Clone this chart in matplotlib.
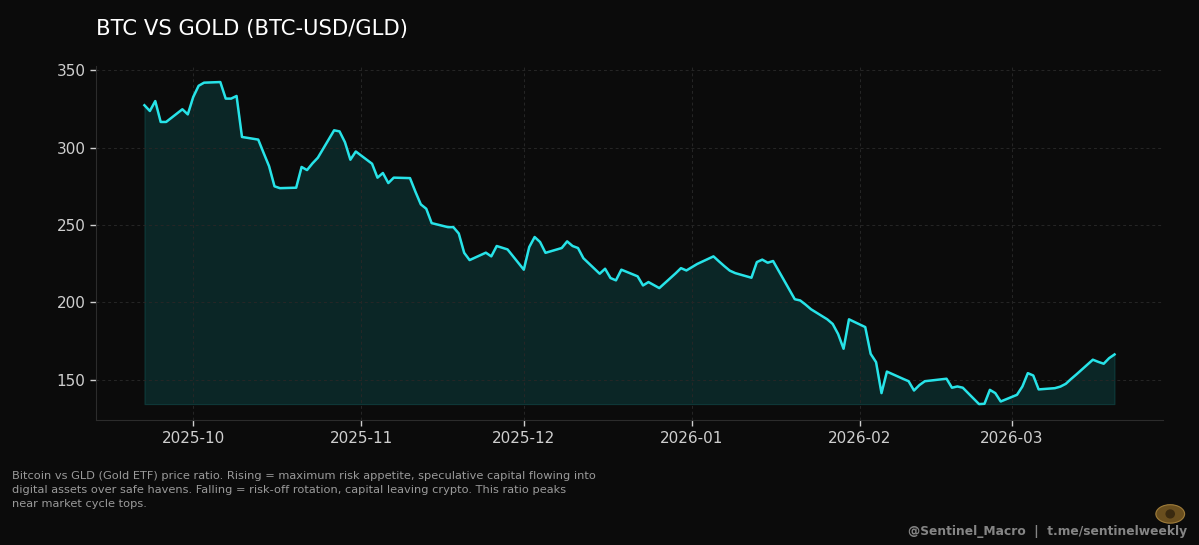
import pandas as pd
import matplotlib
matplotlib.use("Agg")
import matplotlib.pyplot as plt
import matplotlib.dates as mdates
from matplotlib.patches import Ellipse

# Trading days (US market holidays removed)
start_date = "2025-09-22"
end_date = "2026-03-20"
holidays = ["2025-11-27", "2025-12-25", "2026-01-01", "2026-01-19", "2026-02-16"]

# BTC-USD / GLD ratio
sep_vals = [327.4, 323.7, 330.1, 316.6, 316.6, 324.8, 321.5]
oct_vals = [332.7, 340.0, 342.0, 342.4, 331.7, 331.7, 333.4, 306.9, 305.2, 296.5,
            288.0, 275.0, 273.8, 274.1, 287.5, 285.5, 289.8, 293.5, 311.2, 310.5,
            303.5, 292.2, 297.5]
nov_vals = [289.6, 280.6, 283.6, 277.1, 280.6, 280.3, 271.5, 263.3, 260.5, 251.2,
            248.6, 248.6, 244.5, 232.0, 227.3, 232.1, 229.7, 236.4, 234.2]
dec_vals = [221.1, 235.7, 242.2, 239.0, 232.0, 235.1, 239.4, 236.4, 235.1, 228.5,
            218.5, 221.7, 215.7, 214.2, 221.1, 216.8, 210.9, 213.1, 209.2, 218.7,
            222.1, 220.6]
jan_vals = [224.8, 229.7, 226.5, 223.4, 220.5, 218.9, 215.9, 226.0, 227.6, 225.6,
            226.7, 202.0, 201.2, 198.5, 195.5, 189.0, 186.0, 179.5, 170.0, 189.0]
feb_vals = [184.0, 166.7, 161.3, 141.3, 155.2, 150.5, 149.0, 143.0, 146.5, 149.0,
            150.6, 144.8, 145.6, 144.8, 134.2, 134.4, 143.4, 141.3, 135.9]
mar_vals = [140.2, 145.6, 154.2, 152.7, 143.7, 144.5, 145.5, 147.3, 150.5, 153.5,
            162.9, 161.5, 160.3, 163.9, 166.3]

title = "BTC VS GOLD (BTC-USD/GLD)"
note = ("Bitcoin vs GLD (Gold ETF) price ratio. Rising = maximum risk appetite, speculative capital flowing into\n"
        "digital assets over safe havens. Falling = risk-off rotation, capital leaving crypto. This ratio peaks\n"
        "near market cycle tops.")
credit = "@Sentinel_Macro  |  t.me/sentinelweekly"

dates = pd.bdate_range(start_date, end_date)
dates = dates[~dates.isin(pd.to_datetime(holidays))]
ratio = pd.Series(sep_vals + oct_vals + nov_vals + dec_vals + jan_vals + feb_vals + mar_vals,
                  index=dates)

bg = "#0b0b0b"
line_color = "#27e3e8"

fig = plt.figure(figsize=(11.99, 5.45), dpi=100, facecolor=bg)
ax = fig.add_axes([0.080, 0.229, 0.890, 0.650])
ax.set_facecolor(bg)

ax.plot(ratio.index, ratio.values, color=line_color, linewidth=1.8)
ax.fill_between(ratio.index, ratio.values, ratio.min(), facecolor="#0fb8b8", alpha=0.16,
                edgecolor="#1fd0d0", linewidth=0.8)

# Axis styling
ax.xaxis.set_major_locator(mdates.MonthLocator())
ax.xaxis.set_major_formatter(mdates.DateFormatter("%Y-%m"))
ax.set_yticks([150, 200, 250, 300, 350])
ax.tick_params(axis="both", colors="#cfcfcf", labelsize=11, length=4, width=1)
ax.grid(True, color="#262626", linestyle=(0, (3, 3)), linewidth=0.7)
for side in ["top", "right"]:
    ax.spines[side].set_visible(False)
for side in ["left", "bottom"]:
    ax.spines[side].set_color("#2c2c2c")

fig.text(0.080, 0.946, title, color="white", fontsize=15.2, va="center", ha="left")
fig.text(0.010, 0.135, note, color="#9a9a9a", fontsize=8.2, va="top", ha="left", linespacing=1.45)
fig.text(0.990, 0.012, credit, color="#858585", fontsize=8.8, fontweight="bold", va="bottom", ha="right")

# small gold eye mark above the credit line
fig.add_artist(Ellipse((0.976, 0.057), 0.024, 0.034, transform=fig.transFigure,
                       facecolor="#7a5a22", edgecolor="#b08a40", linewidth=0.8, alpha=0.85))
fig.add_artist(Ellipse((0.976, 0.057), 0.008, 0.017, transform=fig.transFigure,
                       facecolor="#3a2a10", edgecolor="none"))

fig.savefig("out.png", dpi=100, facecolor=bg)
